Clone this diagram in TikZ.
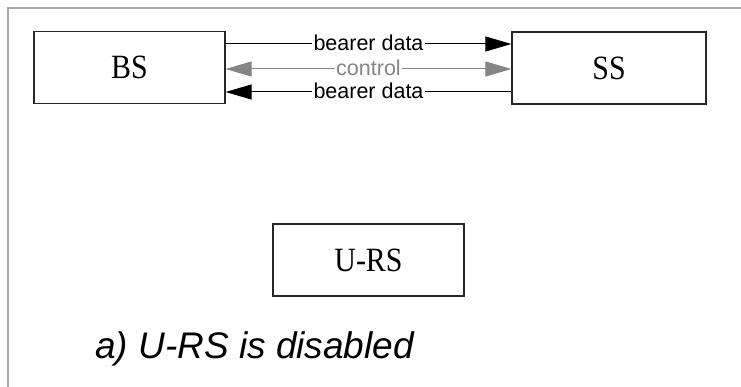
\documentclass[tikz,border=0pt]{standalone}
\usepackage{fontspec}
\setmainfont{Liberation Serif}
\setsansfont{Liberation Sans}
\usetikzlibrary{arrows.meta}
\definecolor{framegray}{HTML}{A8A8A8}
\definecolor{ctrlgray}{HTML}{858585}
\newcommand{\narrowtext}[1]{\scalebox{0.88}[1]{#1}}
\tikzset{
  unit/.style={draw=black!85, line width=1.2pt, minimum width=191pt, minimum height=72pt,
    inner sep=0pt, font=\fontsize{34}{34}\selectfont},
  link/.style={line width=1pt, -{Triangle[length=26pt,width=15pt]}},
  linklabel/.style={midway, fill=white, inner xsep=1.5pt, inner ysep=0pt, yshift=1pt,
    font=\sffamily\fontsize{21.5}{21.5}\selectfont},
}
\begin{document}
\begin{tikzpicture}[x=1pt,y=-1pt]
  \useasboundingbox (0,0) rectangle (741,387);
  % page frame
  \draw[framegray, line width=1.4pt] (8,387) -- (8,8) -- (741,8);
  % stations
  \node[unit, minimum width=191pt] (bs) at (129.5,67.5) {\narrowtext{BS}};
  \node[unit, minimum width=194pt] (ss) at (609,68) {\narrowtext{SS}};
  \node[unit, minimum width=191pt] (urs) at (368.5,260) {\narrowtext{U-RS}};
  % anchor points on the facing sides
  \coordinate (bsA) at (bs.east |- 0,44);
  \coordinate (bsB) at (bs.east |- 0,69);
  \coordinate (bsC) at (bs.east |- 0,92);
  \coordinate (ssA) at (ss.west |- 0,44);
  \coordinate (ssB) at (ss.west |- 0,69);
  \coordinate (ssC) at (ss.west |- 0,92);
  % links
  \draw[link] (bsA) -- node[linklabel] {bearer data} (ssA);
  \draw[link, ctrlgray, {Triangle[length=26pt,width=15pt]}-{Triangle[length=26pt,width=15pt]}]
    (bsB) -- node[linklabel, text=ctrlgray] {control} (ssB);
  \draw[link] (ssC) -- node[linklabel] {bearer data} (bsC);
  % caption
  \node[anchor=base west, inner sep=0pt, font=\sffamily\itshape\fontsize{37}{37}\selectfont]
    (cap) at (95,358) {a) U-RS is disabled};
\end{tikzpicture}
\end{document}
